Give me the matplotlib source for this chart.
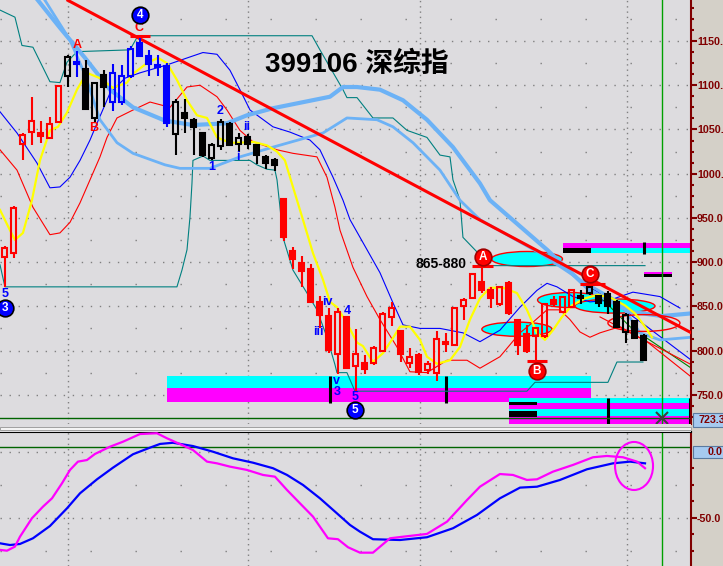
import matplotlib
matplotlib.use("Agg")
import matplotlib.pyplot as plt
from matplotlib.patches import Rectangle, Ellipse
from matplotlib.transforms import blended_transform_factory

plt.rcParams['font.family'] = ['Liberation Sans', 'DejaVu Sans']

# ---------------- data ----------------
opens  = [906, 910, 1034, 1047, 1046, 1040, 1058, 1110, 1126, 1118, 1063, 1112, 1081, 1081, 1110, 1148,
          1133, 1123, 1122, 1045, 1069, 1061, 1046, 1018, 1031, 1056, 1034, 1042, 1032, 1019, 1015,
          971, 912, 899, 892, 855, 839, 796, 838, 783, 786, 786, 799, 838, 822, 786, 795, 778, 775,
          810, 806, 850, 859, 877, 868, 853, 876, 835, 819, 816, 816, 857, 844, 849,
          862, 865, 862, 864, 855, 821, 833, 816]
highs  = [918, 963, 1046, 1087, 1060, 1064, 1100, 1134, 1139, 1129, 1103, 1117, 1124, 1123, 1144, 1156,
          1140, 1134, 1125, 1085, 1084, 1063, 1046, 1035, 1062, 1058, 1046, 1045, 1033, 1021, 1018,
          971, 917, 907, 898, 862, 848, 848, 838, 824, 795, 805, 843, 855, 823, 803, 797, 788, 822,
          820, 848, 859, 886, 896, 872, 873, 879, 835, 829, 825, 854, 862, 861, 868,
          868, 878, 863, 867, 857, 842, 835, 819]
lows   = [872, 905, 1015, 1032, 1035, 1039, 1057, 1098, 1109, 1072, 1058, 1075, 1071, 1078, 1108, 1132,
          1110, 1110, 1053, 1021, 1046, 1021, 1019, 1015, 1027, 1031, 1024, 1028, 1011, 1005, 1003,
          924, 892, 872, 854, 825, 797, 774, 779, 753, 774, 784, 798, 828, 787, 780, 772, 773, 765,
          798, 805, 835, 858, 865, 848, 850, 840, 795, 797, 789, 814, 850, 843, 848,
          853, 863, 849, 841, 825, 809, 813, 788]
closes = [916, 961, 1044, 1059, 1043, 1056, 1099, 1132, 1124, 1073, 1103, 1098, 1114, 1111, 1141, 1133,
          1124, 1121, 1057, 1081, 1063, 1053, 1021, 1032, 1058, 1032, 1040, 1034, 1021, 1012, 1010,
          928, 904, 890, 855, 840, 801, 844, 780, 796, 779, 803, 841, 848, 796, 793, 776, 785, 813,
          807, 848, 857, 886, 868, 859, 872, 842, 806, 800, 825, 853, 853, 861, 868,
          859, 872, 854, 850, 827, 840, 814, 789]
candle_colors = "rrrrrrrkbkkkbbbbbbbkkkkkkkkkkkk" + "r" * 33 + "kkkkkkkk"

yellow_x = [-0.52, 0.59, 1.14, 2.03, 3.03, 3.92, 5.03, 5.92, 6.92, 8.03, 9.14, 10.59, 12.03, 13.59, 14.26,
            15.81, 17.03, 18.03, 19.14, 20.26, 21.37, 22.48, 23.59, 25.03, 26.14, 27.59, 29.14, 30.26,
            31.14, 32.03, 33.14, 34.26, 35.37, 36.15, 36.92, 38.03, 39.15, 39.81, 40.92, 42.03, 43.14,
            43.92, 45.03, 46.15, 46.92, 48.03, 49.48, 50.59, 51.70, 52.81, 53.92, 55.37, 56.92, 58.03,
            59.14, 60.03, 60.92, 61.92, 63.03, 64.48, 65.92, 67.48, 68.92, 70.03, 71.15, 71.92]
yellow_y = [959, 936, 925, 933, 970, 1015, 1049, 1053, 1069, 1095, 1114, 1108, 1097, 1103, 1113, 1125,
            1131, 1125, 1106, 1083, 1066, 1063, 1041, 1035, 1035, 1036, 1032, 1025, 1015, 985, 948, 910,
            880, 855, 849, 831, 809, 805, 787, 797, 814, 827, 827, 812, 793, 785, 789, 804, 835, 859,
            871, 871, 865, 846, 820, 812, 823, 838, 851, 859, 863, 859, 851, 842, 827, 815]

lb_thick_x = [3.70, 6.14, 8.92, 11.70, 14.26, 17.81, 20.92, 24.70, 26.92, 29.81, 36.14, 37.59, 39.14,
              41.70, 44.26, 46.92, 49.81, 52.81, 53.92, 60.26, 65.03, 69.48, 73.03, 76.30]
lb_thick_y = [1196, 1165, 1131, 1095, 1075, 1060, 1055, 1057, 1066, 1074, 1087, 1098, 1098, 1095, 1083,
              1061, 1030, 989, 970, 914, 868, 844, 839, 842]
lb_thin_x = [4.48, 7.26, 8.92, 10.59, 12.48, 14.26, 17.81, 19.48, 22.81, 26.14, 29.81, 35.37, 38.03,
             41.37, 43.14, 45.37, 48.37, 50.59, 52.81, 59.48, 63.92, 68.37, 70.59, 72.81, 76.30]
lb_thin_y = [1196, 1151, 1112, 1061, 1035, 1023, 1010, 1006, 1006, 1019, 1030, 1046, 1063, 1061, 1053,
             1035, 1004, 970, 948, 910, 880, 854, 820, 812, 815]

band_up_x = [-0.52, 1.37, 3.59, 5.03, 6.14, 7.26, 8.37, 9.48, 10.26, 11.70, 13.37, 15.03, 18.03, 20.59,
             22.03, 23.59, 25.03, 26.14, 27.26, 29.81, 31.70, 33.92, 35.03, 36.48, 37.59, 38.37, 40.26,
             41.70, 43.14, 44.26, 46.15, 48.37, 50.92, 52.81, 55.03, 57.26, 59.14, 60.26, 61.37, 63.15,
             65.03, 67.26, 68.37, 69.81, 72.81, 75.03]
band_up_y = [1070, 1046, 1012, 984, 985, 996, 1015, 1038, 1057, 1091, 1108, 1114, 1123, 1132, 1137, 1135,
             1117, 1095, 1072, 1053, 1047, 1038, 1027, 996, 970, 948, 914, 888, 854, 829, 825, 825, 820,
             810, 823, 849, 868, 876, 872, 861, 855, 857, 861, 866, 861, 848]
band_lo_x = [-0.52, 1.37, 3.14, 5.03, 6.14, 7.26, 8.37, 9.48, 10.59, 11.37, 12.48, 14.26, 16.15, 18.37,
             20.26, 21.70, 23.59, 24.70, 26.14, 27.59, 30.26, 32.03, 34.70, 35.81, 36.70, 37.26, 38.70,
             40.26, 41.70, 43.59, 45.03, 46.92, 49.15, 51.37, 52.81, 55.03, 57.26, 58.70, 60.26, 61.70,
             62.81, 63.92, 65.03, 66.15, 68.37, 71.37, 76.30]
band_lo_y = [1027, 1004, 962, 931, 933, 945, 967, 993, 1019, 1041, 1063, 1072, 1081, 1075, 1098, 1100,
             1087, 1072, 1049, 1036, 1027, 1023, 1019, 996, 962, 936, 894, 861, 835, 804, 776, 775, 789,
             789, 780, 793, 820, 832, 846, 846, 835, 821, 815, 820, 827, 810, 770]

teal_hi_x = [-0.52, 1.14, 1.92, 3.14, 5.03, 6.14, 6.92, 8.03, 13.92, 14.81, 34.15, 35.03, 37.59, 38.03,
             39.15, 40.92, 43.14, 44.70, 46.92, 48.37, 49.48, 49.81, 50.59, 50.92, 52.81, 53.37, 71.15]
teal_hi_y = [1185, 1177, 1145, 1143, 1104, 1103, 1126, 1138, 1140, 1156, 1156, 1140, 1095, 1086, 1086,
             1063, 1063, 1049, 1041, 1021, 1019, 993, 970, 928, 908, 896, 896]
teal_lo_x = [-0.52, 0.03, 19.14, 19.70, 20.26, 20.59, 20.81, 20.92, 22.03, 22.81, 27.26, 28.03, 29.14,
             30.03, 30.26, 30.59, 30.92, 32.03, 33.59, 34.70, 35.81, 36.70, 36.92, 38.03, 38.92, 58.03,
             58.92, 67.03, 68.03, 70.92]
teal_lo_y = [897, 872, 872, 891, 914, 951, 989, 1015, 1020, 1015, 1015, 1010, 1005, 1004, 993, 962, 928,
             891, 865, 846, 815, 784, 775, 775, 754, 754, 764, 764, 787, 787]

trend_x = [7.03, 76.30]
trend_y = [1196, 820]
blue2_x = [65.03, 68.37, 71.37, 76.30]
blue2_y = [872, 849, 827, 789]
green2_x = [65.03, 69.48, 76.30]
green2_y = [872, 827, 780]
red2_x = [66.15, 71.0, 76.30]
red2_y = [838, 812, 784]

osc_mag_x = [-0.52, 0.26, 1.14, 1.70, 3.03, 4.26, 5.26, 6.37, 7.26, 8.14, 9.14, 10.03, 11.70, 13.15,
             15.03, 16.92, 18.03, 19.70, 20.92, 22.48, 23.59, 25.03, 26.92, 28.70, 30.03, 31.37, 32.81,
             34.26, 35.92, 37.03, 38.15, 39.48, 40.92, 42.81, 44.26, 46.92, 49.15, 51.37, 52.81, 55.03,
             56.48, 58.03, 59.15, 60.92, 63.15, 65.37, 66.92, 68.70, 70.26, 71.15]
osc_mag_y = [-74.2, -74.8, -71.7, -64.2, -50.2, -41.4, -35.1, -23.7, -13.6, -7.3, -6.1, -1.5, 4.0, 7.8,
             13.6, 14.2, 10.4, 5.3, 1.5, -7.3, -8.6, -11.1, -13.6, -17.4, -18.7, -28.8, -38.9, -49.0,
             -65.4, -66.1, -72.2, -76.3, -76.3, -65.4, -64.2, -62.1, -52.8, -36.4, -26.3, -16.7, -17.4,
             -21.2, -20.7, -14.9, -9.8, -4.0, -3.0, -4.0, -7.3, -12.3]
osc_blue_x = [-0.52, 0.59, 1.70, 3.14, 5.03, 6.92, 8.37, 10.26, 12.03, 14.26, 16.15, 17.26, 18.70, 20.92,
              23.15, 25.37, 27.59, 29.81, 31.37, 33.15, 35.03, 36.92, 38.37, 39.48, 40.92, 43.92, 46.92,
              49.81, 52.48, 55.03, 57.26, 59.15, 61.70, 64.70, 67.59, 69.48, 71.15]
osc_blue_y = [-69.2, -70.5, -69.7, -65.4, -56.1, -42.7, -31.3, -20.7, -11.9, -1.7, 3.3, 6.1, 7.0, 4.5,
              0.2, -4.8, -8.1, -12.3, -17.4, -25.0, -35.1, -46.5, -55.3, -60.4, -66.1, -66.7, -64.6,
              -57.8, -47.7, -35.1, -27.0, -26.3, -21.2, -13.1, -8.6, -7.3, -8.6]

price_ticks = [750, 800, 850, 900, 950, 1000, 1050, 1100, 1150]
grid_x = [7.03, 27.03, 46.15, 69.15]
now_x = 73.03
last_price = 723.3

# zones: (x0, x1, y0, y1, color)
zones = [
    (18.03, 65.14, 757.6, 771.1, '#00ffff'), (18.03, 65.14, 741.7, 757.6, '#ff00ff'),
    (62.04, 76.3, 916.3, 922.0, '#ff00ff'), (62.04, 65.15, 910.6, 916.3, '#000000'),
    (65.15, 76.3, 910.6, 916.3, '#00ffff'),
    (71.03, 74.15, 886.5, 889.1, '#ff00ff'), (71.03, 74.15, 883.4, 886.5, '#000000'),
    (56.03, 76.3, 741.0, 746.6, '#00ffff'), (56.03, 76.3, 733.5, 741.0, '#ff00ff'),
    (56.03, 76.3, 725.9, 733.5, '#00ffff'), (56.03, 76.3, 716.9, 725.9, '#ff00ff'),
    (56.03, 59.15, 738.4, 742.1, '#000000'), (56.03, 59.15, 725.1, 731.6, '#000000'),
]
zone_bars = [(36.15, 741, 771), (49.03, 741, 771), (71.03, 909, 923), (67.03, 717, 746.6), (76.1, 717, 746.6)]
ellipses = [(58.03, 903.5, 7.9, 17), (62.81, 857.1, 7.2, 17), (67.81, 850.3, 8.9, 16), (56.92, 824.1, 7.8, 16)]

bg = '#dddcdf'
dred = '#800000'
cmap = {'r': '#ff0000', 'k': '#000000', 'b': '#0000ff'}
tick_fs = 7.7

fig = plt.figure(figsize=(7.23, 5.66), dpi=100, facecolor='#d4d0c8')
ax = fig.add_axes([0, 1 - 424 / 566, 691 / 723, 424 / 566], facecolor=bg)
ax2 = fig.add_axes([0, 0, 691 / 723, 134 / 566], facecolor=bg)

# panel separator
fig.patches.append(Rectangle((0, 1 - 432 / 566), 691 / 723, 8 / 566, transform=fig.transFigure,
                             fc=bg, ec='none', zorder=0))
fig.patches.append(Rectangle((0, 1 - 430 / 566), 691 / 723, 3 / 566, transform=fig.transFigure,
                             fc='#f4f4f4', ec='#a0a0a0', lw=0.7, zorder=1))

# ---------------- main panel ----------------
for v in price_ticks:
    ax.axhline(v, color='#808080', lw=1, ls=(0, (1, 5.5)), zorder=0.5)
    ax.axhline(v + 25, color='#808080', lw=1, ls=(0, (1, 31.4)), zorder=0.5)
for gx in grid_x:
    ax.axvline(gx, color='#808080', lw=1, ls=(0, (1, 2.8)), zorder=0.5)

for x0, x1, y0, y1, c in zones:
    ax.add_patch(Rectangle((x0, y0), x1 - x0, y1 - y0, fc=c, ec='none', zorder=1))
for bx, y0, y1 in zone_bars:
    ax.plot([bx, bx], [y0, y1], color='black', lw=2.2, zorder=1.2, solid_capstyle='butt')
for ex, ey, ew, eh in ellipses:
    ax.add_patch(Ellipse((ex, ey), ew, eh, fc='#00ffff', ec='#ff0000', lw=1, zorder=1.5))
ax.add_patch(Ellipse((71.03, 831.1), 8, 19, fc='none', ec='#ff0000', lw=1, zorder=3))

ax.axhline(last_price, color='#006400', lw=1, zorder=1.3)
ax.axvline(now_x, color='#00a000', lw=1, zorder=2)

ax.plot(teal_hi_x, teal_hi_y, color='#008080', lw=0.8, zorder=2)
ax.plot(teal_lo_x, teal_lo_y, color='#008080', lw=0.8, zorder=2)
ax.plot(band_up_x, band_up_y, color='#0000ff', lw=0.8, zorder=2)
ax.plot(band_lo_x, band_lo_y, color='#ff0000', lw=0.8, zorder=2)
ax.plot(blue2_x, blue2_y, color='#0000ff', lw=0.8, zorder=2)
ax.plot(green2_x, green2_y, color='#008000', lw=0.8, zorder=2)
ax.plot(red2_x, red2_y, color='#ff0000', lw=0.8, zorder=2)
ax.plot(lb_thin_x, lb_thin_y, color='#6cb2f6', lw=2.0, zorder=2.5)
ax.plot(lb_thick_x, lb_thick_y, color='#6cb2f6', lw=3.0, zorder=2.5)
ax.plot(trend_x, trend_y, color='#ff0000', lw=2.2, zorder=2.6)
ax.plot(yellow_x, yellow_y, color='#ffff00', lw=1.6, zorder=3)

# candles
bw = 0.62
for i in range(len(opens)):
    o, h, l, c = opens[i], highs[i], lows[i], closes[i]
    col = cmap[candle_colors[i]]
    top, bot = max(o, c), min(o, c)
    ax.plot([i, i], [top, h], color=col, lw=1.5, solid_capstyle='butt', zorder=4)
    ax.plot([i, i], [l, bot], color=col, lw=1.5, solid_capstyle='butt', zorder=4)
    hollow = c > o
    ax.add_patch(Rectangle((i - bw / 2, bot), bw, max(top - bot, 1.5),
                           fc='none' if hollow else col, ec=col, lw=1.5, zorder=4))

# wave marks
red_bars = [(51.93, 54.26, 895.6), (58.03, 60.26, 788.1), (63.92, 66.70, 875.2), (13.92, 16.15, 1156.2)]
for x0, x1, y in red_bars:
    ax.plot([x0, x1], [y, y], color='#ff0000', lw=2.2, zorder=5, solid_capstyle='butt')


def circ(x, y, txt, fc, ec):
    ax.plot(x, y, 'o', ms=12, mfc=fc, mec=ec, mew=1.2, zorder=9)
    ax.text(x, y, txt, color='white', fontsize=8.5, fontweight='bold', ha='center', va='center', zorder=10)


circ(15.03, 1179.4, '4', '#0000ff', 'black')
circ(0.03, 848.4, '3', '#0000ff', 'black')
circ(38.92, 732.7, '5', '#0000ff', 'black')
circ(53.15, 905.7, 'A', '#ff0000', '#a00000')
circ(59.14, 776.8, 'B', '#ff0000', '#a00000')
circ(65.03, 886.5, 'C', '#ff0000', '#a00000')

red_labels = [(8.03, 1145.5, 'A'), (9.92, 1051.2, 'B'), (14.96, 1164.4, 'C')]
for x, y, t in red_labels:
    ax.text(x, y, t, color='#ff0000', fontsize=9, fontweight='bold', ha='center', va='center', zorder=8)
blue_labels = [(0.0, 864.0, '5'), (23.03, 1007.5, '1'), (23.92, 1070.9, '2'), (25.92, 1018.8, 'i'),
               (26.92, 1052.8, 'ii'), (34.81, 820.9, 'iii'), (35.81, 854.8, 'iv'), (36.92, 765.5, 'v'),
               (36.92, 753.0, '3'), (38.03, 844.7, '4'), (38.92, 747.4, '5')]
for x, y, t in blue_labels:
    ax.text(x, y, t, color='#0000ff', fontsize=9, fontweight='bold', ha='center', va='center', zorder=8)

ax.text(48.48, 897.8, '865-880', fontsize=10, fontweight='bold', ha='center', va='center', zorder=8)
ax.text(39.15, 1122.9, '399106 深综指', fontsize=20, fontweight='bold',
        family=['Liberation Sans', 'Noto Sans CJK SC'], ha='center', va='center', zorder=8)

ax.plot(now_x, last_price, marker='x', ms=9, mew=1.5, color='#404040', zorder=6, clip_on=False)

ax.set_xlim(-0.52, 76.26)
ax.set_ylim(716.9, 1196.4)
ax.set_xticks([])
ax.yaxis.tick_right()
ax.set_yticks(price_ticks)
ax.set_yticklabels([f"{v:.1f}" for v in price_ticks], fontweight='bold', fontsize=tick_fs, color=dred)
ax.set_yticks([v + d for v in price_ticks for d in (12.5, 25, 37.5)] + [737.5, 725], minor=True)
ax.tick_params(axis='y', which='major', direction='out', length=4, width=1.5, color=dred, pad=0.3)
ax.tick_params(axis='y', which='minor', direction='out', length=2, width=1.5, color=dred)
for s in ['left', 'top', 'bottom']:
    ax.spines[s].set_visible(False)
ax.spines['right'].set_color(dred)
ax.spines['right'].set_linewidth(1.5)

tr = blended_transform_factory(ax.transAxes, ax.transData)
ax.add_patch(Rectangle((1.003, 714), 0.06, 15, transform=tr, fc='#a6caf0', ec='#5a7aa0', lw=0.8,
                       clip_on=False, zorder=10))
ax.text(1.011, 721.6, f"{last_price:.1f}", transform=tr, color=dred, fontsize=tick_fs, fontweight='bold',
        ha='left', va='center', clip_on=False, zorder=11)

# ---------------- oscillator panel ----------------
for v, dense in [(0, True), (-25, False), (-50, True), (-75, False)]:
    ax2.axhline(v, color='#808080', lw=1, ls=(0, (1, 5.5)) if dense else (0, (1, 31.4)), zorder=0.5)
for gx in grid_x:
    ax2.axvline(gx, color='#808080', lw=1, ls=(0, (1, 2.8)), zorder=0.5)
ax2.axhline(3.8, color='#006400', lw=1, zorder=1)
ax2.axvline(now_x, color='#00a000', lw=1, zorder=1)

ax2.plot(osc_blue_x, osc_blue_y, color='#0000ff', lw=1.6, zorder=3)
ax2.plot(osc_mag_x, osc_mag_y, color='#ff00ff', lw=1.6, zorder=3)
ax2.add_patch(Ellipse((69.93, -10.6), 4.22, 36.4, fc='none', ec='#ff00ff', lw=1.5, zorder=4))

ax2.set_xlim(-0.52, 76.26)
ax2.set_ylim(-86.4, 15.15)
ax2.set_xticks([])
ax2.yaxis.tick_right()
ax2.set_yticks([-50])
ax2.set_yticklabels(['-50.0'], fontweight='bold', fontsize=tick_fs, color=dred)
ax2.set_yticks([-12.5, -25, -37.5, -62.5, -75], minor=True)
ax2.tick_params(axis='y', which='major', direction='out', length=4, width=1.5, color=dred, pad=0.3)
ax2.tick_params(axis='y', which='minor', direction='out', length=2, width=1.5, color=dred)
for s in ['left', 'bottom']:
    ax2.spines[s].set_visible(False)
ax2.spines['top'].set_color('black')
ax2.spines['top'].set_linewidth(1.5)
ax2.spines['right'].set_color(dred)
ax2.spines['right'].set_linewidth(1.5)

tr2 = blended_transform_factory(ax2.transAxes, ax2.transData)
ax2.add_patch(Rectangle((1.003, -4.5), 0.06, 9, transform=tr2, fc='#a6caf0', ec='#5a7aa0', lw=0.8,
                        clip_on=False, zorder=10))
ax2.text(1.046, 0, '0.0', transform=tr2, color=dred, fontsize=tick_fs, fontweight='bold',
         ha='right', va='center', clip_on=False, zorder=11)

fig.savefig('out.png', dpi=100, facecolor=fig.get_facecolor())
